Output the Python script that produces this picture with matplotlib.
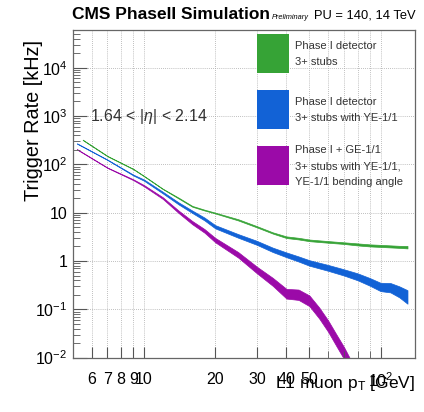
import numpy as np
import matplotlib
matplotlib.use("Agg")
import matplotlib.pyplot as plt
from matplotlib.patches import Rectangle
from matplotlib.ticker import FixedLocator, NullFormatter

plt.rcParams['font.family'] = ['Liberation Sans', 'DejaVu Sans']
plt.rcParams['mathtext.fontset'] = 'custom'
plt.rcParams['mathtext.rm'] = 'Liberation Sans'
plt.rcParams['mathtext.it'] = 'Liberation Sans:italic'

# L1 muon pT [GeV] and trigger rate [kHz] (relative band half-width)
pt_green = [5.5, 7, 9, 10, 12, 14, 16, 18, 20, 25, 30, 35, 40, 45, 50, 60, 70, 80, 90, 100, 120, 130]
rate_green = [321, 148, 80, 57, 31, 20, 13.5, 11.3, 9.8, 7.1, 5.1, 3.8, 3.1, 2.9, 2.67, 2.48, 2.34, 2.2, 2.1, 2.05, 1.96, 1.93]
err_green = [0.01, 0.01, 0.01, 0.01, 0.01, 0.02, 0.02, 0.02, 0.02, 0.03, 0.03, 0.03, 0.04, 0.04, 0.04, 0.04, 0.04, 0.05, 0.05, 0.05, 0.05, 0.06]

pt_blue = [5.2, 7, 9, 10, 12, 14, 16, 18, 20, 25, 30, 35, 40, 45, 50, 60, 70, 80, 90, 100, 110, 120, 130]
rate_blue = [270, 124, 60, 47, 26, 15.5, 10.4, 7.4, 5.1, 3.3, 2.37, 1.7, 1.34, 1.1, 0.91, 0.72, 0.58, 0.47, 0.37, 0.29, 0.28, 0.23, 0.18]
err_blue = [0.01, 0.01, 0.02, 0.03, 0.04, 0.05, 0.06, 0.07, 0.08, 0.09, 0.10, 0.11, 0.12, 0.13, 0.14, 0.15, 0.16, 0.18, 0.20, 0.22, 0.25, 0.30, 0.38]

pt_mag = [5.2, 7, 9, 10, 12, 14, 16, 18, 20, 25, 30, 35, 40, 45, 50, 55, 60, 65, 70, 75]
rate_mag = [205, 85, 48, 36, 20, 10.4, 6.2, 4.2, 2.7, 1.34, 0.65, 0.37, 0.21, 0.20, 0.15, 0.084, 0.045, 0.023, 0.0125, 0.0065]
err_mag = [0.01, 0.01, 0.02, 0.03, 0.04, 0.06, 0.08, 0.09, 0.11, 0.14, 0.17, 0.21, 0.26, 0.28, 0.29, 0.30, 0.31, 0.32, 0.33, 0.34]

series = [
    (pt_green, rate_green, err_green, '#36a336', 'Phase I detector\n3+ stubs'),
    (pt_blue, rate_blue, err_blue, '#1262d6', 'Phase I detector\n3+ stubs with YE-1/1'),
    (pt_mag, rate_mag, err_mag, '#9b0aa8', 'Phase I + GE-1/1\n3+ stubs with YE-1/1,\nYE-1/1 bending angle'),
]

x_ticks = [6, 7, 8, 9, 10, 20, 30, 40, 50, 100]
x_labels = ['6', '7', '8', '9', '10', '20', '30', '40', '50', r'$10^{2}$']
y_ticks = [1e-2, 1e-1, 1, 10, 1e2, 1e3, 1e4]
y_labels = [r'$10^{-2}$', r'$10^{-1}$', '1', '10', r'$10^{2}$', r'$10^{3}$', r'$10^{4}$']

fig = plt.figure(figsize=(4.24, 4.12), dpi=100)
ax = fig.add_axes([0.172, 0.132, 0.807, 0.795])
ax.set_xscale('log')
ax.set_yscale('log')
ax.set_xlim(5, 140)
ax.set_ylim(1e-2, 6e4)

for pt, rate, err, col, lab in series:
    pt = np.array(pt)
    rate = np.array(rate)
    err = np.array(err)
    ax.fill_between(pt, rate / (1 + err), rate * (1 + err), color=col, lw=0.5, edgecolor=col)

# grid
grid_x = [6, 7, 8, 9, 10, 20, 30, 40, 50, 60, 70, 80, 90, 100]
for gx in grid_x:
    ax.axvline(gx, color='#aaaaaa', lw=0.6, ls=(0, (1, 1.5)), zorder=0)
for gy in y_ticks:
    ax.axhline(gy, color='#aaaaaa', lw=0.6, ls=(0, (1, 1.5)), zorder=0)

ax.xaxis.set_major_locator(FixedLocator(x_ticks))
ax.set_xticklabels(x_labels)
ax.xaxis.set_minor_locator(FixedLocator([60, 70, 80, 90]))
ax.xaxis.set_minor_formatter(NullFormatter())
ax.yaxis.set_major_locator(FixedLocator(y_ticks))
ax.set_yticklabels(y_labels)
ax.tick_params(axis='both', which='both', direction='in', labelsize=11.5, color='#555555')
ax.tick_params(axis='x', which='major', length=8, pad=10)
ax.tick_params(axis='x', which='minor', length=5)
ax.tick_params(axis='y', which='major', length=10, pad=4)
ax.tick_params(axis='y', which='minor', length=5)
for s in ax.spines.values():
    s.set_color('#666666')
    s.set_linewidth(0.9)

# legend boxes
box_y = [0.869, 0.698, 0.527]
for (pt, rate, err, col, lab), by in zip(series, box_y):
    ax.add_patch(Rectangle((0.538, by), 0.094, 0.12, transform=ax.transAxes,
                           facecolor=col, edgecolor='none', zorder=5))
    ax.text(0.649, by + 0.058, lab, transform=ax.transAxes, fontsize=8,
            va='center', ha='left', color='#333333', linespacing=1.8)

ax.text(0.05, 0.735, r'1.64 < |$\eta$| < 2.14', transform=ax.transAxes,
        fontsize=11.5, color='#333333', va='center')

fig.text(0.17, 0.965, 'CMS PhaseII Simulation', fontsize=12.5, weight='bold',
         va='center', ha='left')
fig.text(0.642, 0.958, 'Preliminary', fontsize=5.3, style='italic', va='center')
fig.text(0.74, 0.963, 'PU = 140, 14 TeV', fontsize=9.3, va='center')

fig.text(0.078, 0.708, 'Trigger Rate [kHz]', fontsize=14.3, rotation=90,
         ha='center', va='center')
fig.text(0.98, 0.07, r'L1 muon p$_{\mathrm{T}}$ [GeV]', fontsize=12.5,
         ha='right', va='center')

fig.savefig('out.png', dpi=100)
